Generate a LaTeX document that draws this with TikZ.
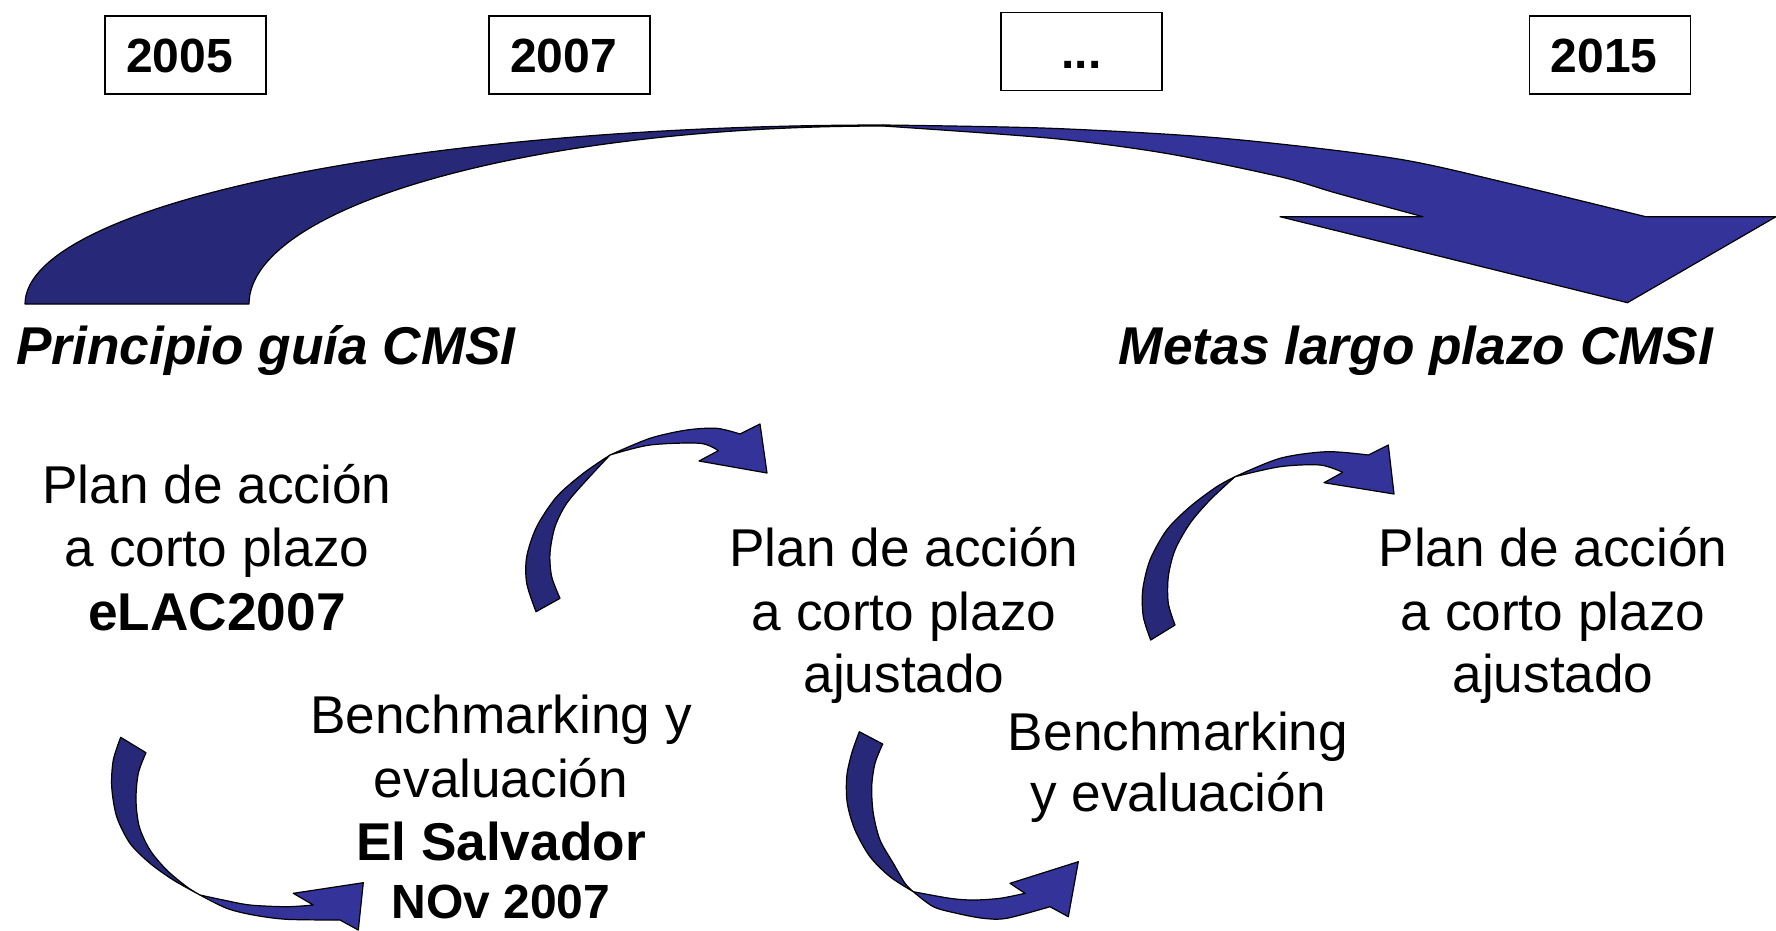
\documentclass[tikz,border=0pt]{standalone}
\usepackage{fontspec}
\setmainfont{Liberation Sans}
\definecolor{navyA}{RGB}{40,40,120}
\definecolor{navyB}{RGB}{51,51,153}
\begin{document}
\begin{tikzpicture}[x=1pt,y=-1pt,
  yearbox/.style={draw=black,line width=1.5pt,minimum width=161pt,minimum height=78pt,inner sep=0pt,text height=34pt,text depth=0pt,font=\fontsize{48}{56}\selectfont\bfseries},
  txt/.style={inner sep=0pt,anchor=base,font=\fontsize{53.2}{63}\selectfont},
  btxt/.style={inner sep=0pt,anchor=base,font=\fontsize{53.2}{63}\selectfont\bfseries},
  ttl/.style={inner sep=0pt,anchor=base,font=\fontsize{53.2}{63}\selectfont\bfseries\itshape},
  back/.style={fill=navyA,draw=black,line width=1.2pt,line join=round},
  front/.style={fill=navyB,draw=black,line width=1.2pt,line join=round}]
\useasboundingbox (0,0) rectangle (1776,930);

% year boxes
\node[yearbox] (y2005) at (185.5,55) {2005\hspace*{12pt}};
\node[yearbox] (y2007) at (569.5,55) {2007\hspace*{12pt}};
\node[yearbox] (ydots) at (1081.5,51.5) {...};
\node[yearbox] (y2015) at (1610,55) {2015\hspace*{12pt}};

% big arrow
\path[back] plot[domain=180:270,samples=60] ({883+858*cos(\x)},{304+179*sin(\x)})
  -- plot[domain=270:180,samples=60] ({883+634*cos(\x)},{304+178*sin(\x)}) -- cycle;
\path[front] plot[smooth] coordinates {(883,125) (1051,128.3) (1222.9,138.3) (1394,158.3) (1508.6,183.3) (1645.7,216.7)}
  -- (1776,216.7) -- (1627.4,302.7) -- (1280,216.7) -- (1422.9,216.7)
  -- plot[smooth] coordinates {(1422.9,216.7) (1337,193.3) (1280,176.7) (1165.7,153.3) (1051.4,138.3) (883,126)} -- cycle;

% arrow A (upper middle-left)
\path[back] plot[smooth] coordinates {(536,611.7) (526.7,583.3) (526.7,556.7) (536.7,526.7) (556.7,496.7) (583.3,473.3) (610,455)}
  -- plot[smooth] coordinates {(610,455) (586.7,480) (566.7,503.3) (555,526.7) (550,553.3) (551.7,576.7) (560,598.3)} -- cycle;
\path[front] plot[smooth] coordinates {(610,455) (650,438.3) (686.7,430) (716.7,428.3) (740,434)}
  -- (760,424) -- (767,473) -- (699,461) -- (718.3,450.7)
  -- plot[smooth] coordinates {(718.3,450.7) (700,443.3) (650,445) (610,455)} -- cycle;

% arrow C (upper right)
\path[back] plot[smooth] coordinates {(1150.7,640) (1143.3,616.7) (1142.7,590) (1150,560) (1166.7,530) (1190,506.7) (1216.7,486.7) (1235,476.7)}
  -- plot[smooth] coordinates {(1235,476.7) (1210,500) (1190,523.3) (1175,550) (1168.3,576.7) (1168.3,603.3) (1175,625)} -- cycle;
\path[front] plot[smooth] coordinates {(1235,476.7) (1280,458.3) (1326.7,451.7) (1368.3,455)}
  -- (1388.3,445) -- (1394,494) -- (1324,482.7) -- (1342.7,472.3)
  -- plot[smooth] coordinates {(1342.7,472.3) (1320,465) (1280,466.7) (1235,476.7)} -- cycle;

% arrow B (lower left)
\path[back] plot[smooth] coordinates {(120.7,737.3) (113.3,760) (111.7,786.7) (116.7,816.7) (130,843.3) (150,863.3) (173.3,880) (200,895)}
  -- plot[smooth] coordinates {(200,895) (186.7,886.7) (166.7,870) (150,850) (139.3,826.7) (136,800) (138.3,773.3) (146,752.7)} -- cycle;
\path[front] plot[smooth] coordinates {(200,895) (226.7,908.3) (253.3,915) (286.7,919.3) (340,920)}
  -- (358.3,930) -- (363.3,882.7) -- (293.3,893.3) -- (313.3,905)
  -- plot[smooth] coordinates {(313.3,905) (286.7,906.7) (250,905) (223.3,900) (200,895)} -- cycle;

% arrow D (lower middle)
\path[back] plot[smooth] coordinates {(859.3,731.7) (851.7,753.3) (846.7,776.7) (847.3,803.3) (855,830) (870,856.7) (890,876.7) (913.3,891.7)}
  -- plot[smooth] coordinates {(913.3,891.7) (905,883.3) (893.3,863.3) (880,840) (873.3,813.3) (871.7,786.7) (875,763.3) (882.7,744)} -- cycle;
\path[front] plot[smooth] coordinates {(913.3,891.7) (933.3,906.7) (956.7,913.3) (983.3,918.3) (1006.7,918.3) (1050,906.7)}
  -- (1068.3,916.7) -- (1078.3,861.7) -- (1010,883.3) -- (1025,893.3)
  -- plot[smooth] coordinates {(1025,893.3) (1000,898.3) (973.3,900) (950,898.3) (913.3,891.7)} -- cycle;

% titles
\node[ttl] (tleft) at (266,364) {Principio guía CMSI};
\node[ttl] (tright) at (1416,364) {Metas largo plazo CMSI};

% block 1
\node[txt] (b1a) at (217,503) {Plan de acción};
\node[txt] (b1b) at (217,566.5) {a corto plazo};
\node[btxt] (b1c) at (217,630) {eLAC2007};

% block 2
\node[txt] (b2a) at (501,733) {Benchmarking y};
\node[txt] (b2b) at (501,797) {evaluación};
\node[btxt] (b2c) at (501,860) {El Salvador};
\node[inner sep=0pt,anchor=base,font=\fontsize{48}{58}\selectfont\bfseries] (b2d) at (501,918) {NOv 2007};

% block 3
\node[txt] (b3a) at (904,566.5) {Plan de acción};
\node[txt] (b3b) at (904,630) {a corto plazo};
\node[txt] (b3c) at (904,692) {ajustado};

% block 4
\node[txt] (b4a) at (1178,750) {Benchmarking};
\node[txt] (b4b) at (1178,811) {y evaluación};

% block 5
\node[txt] (b5a) at (1553,566.5) {Plan de acción};
\node[txt] (b5b) at (1553,630) {a corto plazo};
\node[txt] (b5c) at (1553,692) {ajustado};
\end{tikzpicture}
\end{document}
